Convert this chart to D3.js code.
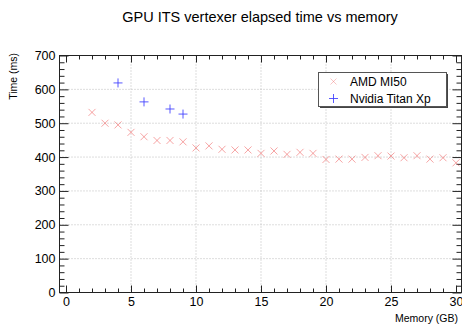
<!DOCTYPE html>
<html lang="en">
<head>
    <meta charset="UTF-8">
    <title>GPU ITS vertexer elapsed time vs memory</title>
    <style>
        body, html {
            margin: 0;
            padding: 0;
            background-color: #ffffff;
            overflow: hidden;
            font-family: 'Liberation Sans', Arial, sans-serif;
        }
        .axis path { display: none; }
        .axis line { stroke: #222; }
        .axis text { fill: #000; font-size: 12.5px; font-family: 'Liberation Sans', Arial, sans-serif; }
        .grid line { stroke: #bbb; stroke-dasharray: 1 2; }
    </style>
</head>
<body>
    <div id="chart"></div>

    <script src="https://d3js.org/d3.v7.min.js"></script>
    <script>
        // Data
        const amdMemory = [2, 3, 4, 5, 6, 7, 8, 9, 10, 11, 12, 13, 14, 15, 16, 17, 18, 19, 20, 21, 22, 23, 24, 25, 26, 27, 28, 29, 30];
        const amdTime = [532, 500, 495, 473, 460, 449, 449, 445, 427, 433, 423, 421, 421, 411, 418, 408, 414, 411, 393, 394, 394, 399, 404, 403, 398, 404, 394, 398, 383];
        const nvidiaMemory = [4, 6, 8, 9];
        const nvidiaTime = [619, 563, 542, 527];
        const xTicks = [0, 5, 10, 15, 20, 25, 30];
        const yTicks = [0, 100, 200, 300, 400, 500, 600, 700];

        const width = 462;
        const height = 325;

        const svg = d3.select("#chart")
            .append("svg")
            .attr("width", width)
            .attr("height", height);

        const x = d3.scaleLinear().domain([-0.5, 30.5]).range([59.5, 462.5]);
        const y = d3.scaleLinear().domain([0, 700]).range([292.5, 55.5]);

        const frameLeft = x.range()[0], frameRight = 461.5;
        const frameTop = y.range()[1], frameBottom = y.range()[0];

        // Grid
        svg.append("g").attr("class", "grid")
            .selectAll("line")
            .data(xTicks.filter(d => d > 0 && d < 30))
            .join("line")
            .attr("x1", d => x(d)).attr("x2", d => x(d))
            .attr("y1", frameTop).attr("y2", frameBottom);

        svg.append("g").attr("class", "grid")
            .selectAll("line")
            .data(yTicks.filter(d => d > 0 && d < 700))
            .join("line")
            .attr("x1", frameLeft).attr("x2", frameRight)
            .attr("y1", d => y(d)).attr("y2", d => y(d));

        // Frame
        svg.append("rect")
            .attr("x", frameLeft).attr("y", frameTop)
            .attr("width", frameRight - frameLeft).attr("height", frameBottom - frameTop)
            .attr("fill", "none")
            .attr("stroke", "#222");

        // Minor ticks
        const xMinor = d3.range(0, 31).filter(d => d % 5 !== 0);
        const yMinor = d3.range(0, 701, 20).filter(d => d % 100 !== 0);

        svg.append("g").attr("class", "axis")
            .attr("transform", `translate(0,${frameBottom})`)
            .call(d3.axisBottom(x).tickValues(xMinor).tickSize(-4).tickFormat(""));
        svg.append("g").attr("class", "axis")
            .attr("transform", `translate(0,${frameTop})`)
            .call(d3.axisTop(x).tickValues(xMinor).tickSize(-4).tickFormat(""));
        svg.append("g").attr("class", "axis")
            .attr("transform", `translate(${frameLeft},0)`)
            .call(d3.axisLeft(y).tickValues(yMinor).tickSize(-5).tickFormat(""));
        svg.append("g").attr("class", "axis")
            .attr("transform", `translate(${frameRight},0)`)
            .call(d3.axisRight(y).tickValues(yMinor).tickSize(-5).tickFormat(""));

        // Major ticks with labels
        svg.append("g").attr("class", "axis")
            .attr("transform", `translate(0,${frameBottom})`)
            .call(d3.axisBottom(x).tickValues(xTicks).tickSize(-7).tickPadding(5))
            .selectAll("text").attr("dy", "0.71em");
        svg.append("g").attr("class", "axis")
            .attr("transform", `translate(0,${frameTop})`)
            .call(d3.axisTop(x).tickValues(xTicks).tickSize(-7).tickFormat(""));
        svg.append("g").attr("class", "axis")
            .attr("transform", `translate(${frameLeft},0)`)
            .call(d3.axisLeft(y).tickValues(yTicks).tickSize(-9).tickPadding(4));
        svg.append("g").attr("class", "axis")
            .attr("transform", `translate(${frameRight},0)`)
            .call(d3.axisRight(y).tickValues(yTicks).tickSize(-9).tickFormat(""));

        // AMD markers (x)
        const amd = amdMemory.map((m, i) => ({ m: m, t: amdTime[i] }));
        const s = 3.5;
        svg.append("g")
            .selectAll("path")
            .data(amd)
            .join("path")
            .attr("d", d => {
                const cx = x(d.m), cy = y(d.t);
                return `M${cx - s},${cy - s}L${cx + s},${cy + s}M${cx - s},${cy + s}L${cx + s},${cy - s}`;
            })
            .attr("stroke", "rgba(238,90,90,0.55)")
            .attr("stroke-width", 1)
            .attr("fill", "none");

        // Nvidia markers (+)
        const nv = nvidiaMemory.map((m, i) => ({ m: m, t: nvidiaTime[i] }));
        const p = 4.5;
        svg.append("g")
            .selectAll("path")
            .data(nv)
            .join("path")
            .attr("d", d => {
                const cx = x(d.m), cy = y(d.t);
                return `M${cx - p},${cy}L${cx + p},${cy}M${cx},${cy - p}L${cx},${cy + p}`;
            })
            .attr("stroke", "rgba(60,60,255,0.85)")
            .attr("stroke-width", 1)
            .attr("fill", "none");

        // Title
        svg.append("text")
            .attr("x", 260).attr("y", 22)
            .attr("text-anchor", "middle")
            .style("font-size", "14.5px")
            .text("GPU ITS vertexer elapsed time vs memory");

        // Axis titles
        svg.append("text")
            .attr("x", 458).attr("y", 322)
            .attr("text-anchor", "end")
            .style("font-size", "10.5px")
            .text("Memory (GB)");

        svg.append("text")
            .attr("transform", "translate(17,53) rotate(-90)")
            .attr("text-anchor", "end")
            .style("font-size", "10.5px")
            .text("Time (ms)");

        // Legend
        const lg = svg.append("g");
        lg.append("rect")
            .attr("x", 320).attr("y", 74).attr("width", 128).attr("height", 34)
            .attr("fill", "#444");
        lg.append("rect")
            .attr("x", 318.5).attr("y", 72.5).attr("width", 128).attr("height", 34)
            .attr("fill", "#fff").attr("stroke", "#555");

        const legendItems = [
            { label: "AMD MI50", type: "x" },
            { label: "Nvidia Titan Xp", type: "+" }
        ];
        legendItems.forEach((d, i) => {
            const cy = 81.5 + i * 17;
            const cx = 333.5;
            if (d.type === "x") {
                lg.append("path")
                    .attr("d", `M${cx - 3},${cy - 3}L${cx + 3},${cy + 3}M${cx - 3},${cy + 3}L${cx + 3},${cy - 3}`)
                    .attr("stroke", "rgba(238,90,90,0.35)").attr("fill", "none");
            } else {
                lg.append("path")
                    .attr("d", `M${cx - 4.5},${cy}L${cx + 4.5},${cy}M${cx},${cy - 4.5}L${cx},${cy + 4.5}`)
                    .attr("stroke", "rgba(60,60,255,0.85)").attr("fill", "none");
            }
            lg.append("text")
                .attr("x", 350).attr("y", cy + 4.5)
                .style("font-size", "12px")
                .text(d.label);
        });
    </script>
</body>
</html>
